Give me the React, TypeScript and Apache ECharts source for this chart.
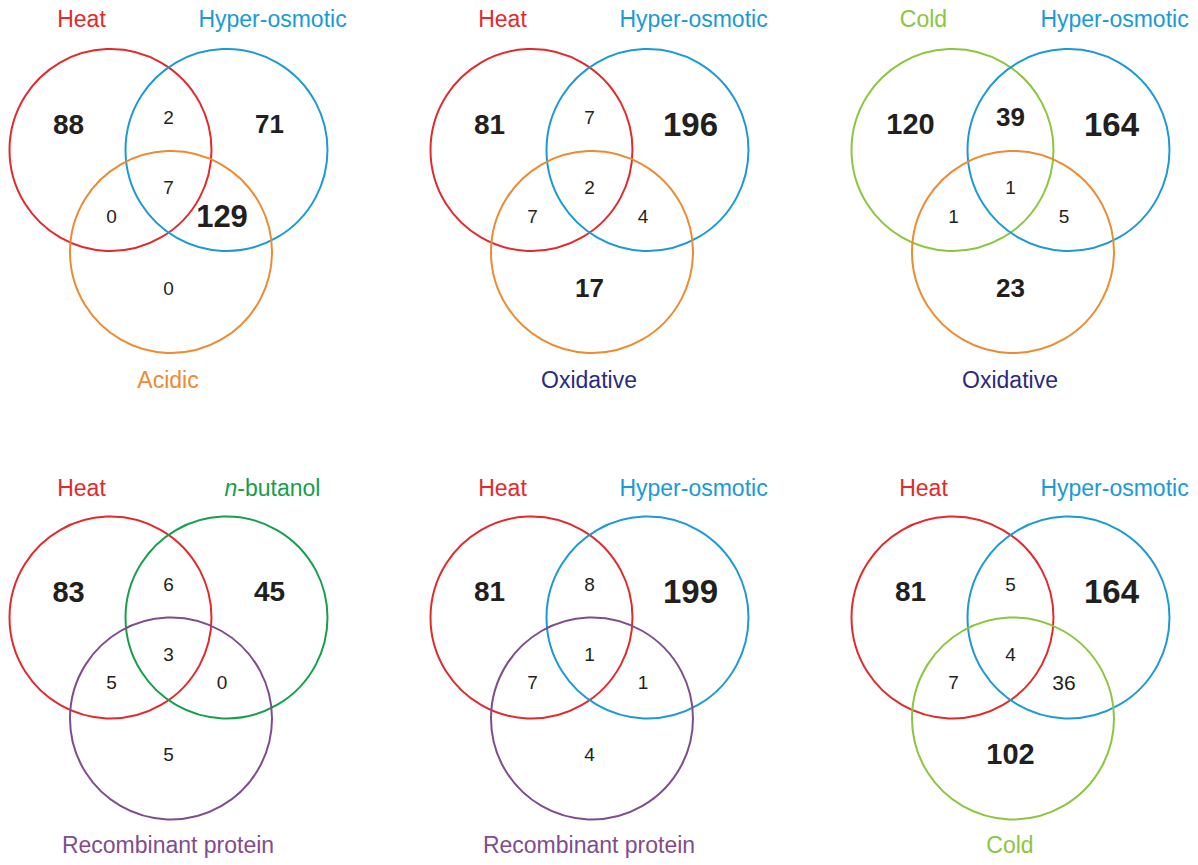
import React, { useEffect, useRef } from "react";
import * as echarts from "echarts";

// ---- data ----
// region order: only A, A∩B, only B, A∩B∩C, A∩C, B∩C, only C
const PANEL_SETS: string[][] = [
  ["Heat", "Hyper-osmotic", "Acidic"],
  ["Heat", "Hyper-osmotic", "Oxidative"],
  ["Cold", "Hyper-osmotic", "Oxidative"],
  ["Heat", "n-butanol", "Recombinant protein"],
  ["Heat", "Hyper-osmotic", "Recombinant protein"],
  ["Heat", "Hyper-osmotic", "Cold"],
];
const COUNTS_P1 = [88, 2, 71, 7, 0, 129, 0];
const COUNTS_P2 = [81, 7, 196, 2, 7, 4, 17];
const COUNTS_P3 = [120, 39, 164, 1, 1, 5, 23];
const COUNTS_P4 = [83, 6, 45, 3, 5, 0, 5];
const COUNTS_P5 = [81, 8, 199, 1, 7, 1, 4];
const COUNTS_P6 = [81, 5, 164, 4, 7, 36, 102];
const PANEL_COUNTS = [COUNTS_P1, COUNTS_P2, COUNTS_P3, COUNTS_P4, COUNTS_P5, COUNTS_P6];

// ---- styles / layout ----
const RED = "#e2292c";
const BLUE = "#1b9ad6";
const ORANGE = "#ee8a2f";
const LGREEN = "#8cc63e";
const DGREEN = "#14a04a";
const PURPLE = "#7f4d8e";
const NAVY = "#2b2a80";
const INK = "#231f20";

const CIRCLE_COLORS = [
  [RED, BLUE, ORANGE],
  [RED, BLUE, ORANGE],
  [LGREEN, BLUE, ORANGE],
  [RED, DGREEN, PURPLE],
  [RED, BLUE, PURPLE],
  [RED, BLUE, LGREEN],
];
const LABEL_COLORS = [
  [RED, BLUE, ORANGE],
  [RED, BLUE, NAVY],
  [LGREEN, BLUE, NAVY],
  [RED, DGREEN, PURPLE],
  [RED, BLUE, PURPLE],
  [RED, BLUE, LGREEN],
];
const NUMBER_SIZES = [
  [28, 19, 26, 19, 19, 31, 19],
  [28, 19, 33, 19, 19, 19, 26],
  [29, 26, 33, 19, 19, 19, 26],
  [29, 19, 28, 19, 19, 19, 19],
  [28, 19, 33, 19, 19, 19, 19],
  [28, 19, 33, 19, 19, 21, 29],
];

const RADIUS = 101;
const CIRCLE_CENTERS = [
  [110.5, 150],
  [226.5, 150],
  [171, 252],
];
const REGION_POS = [
  [68.5, 124],
  [168.5, 117],
  [269.5, 124],
  [168.5, 187],
  [111.5, 216],
  [222, 216],
  [168.5, 288],
];
const SET_LABEL_POS = [
  [81.5, 19],
  [272.5, 19],
  [168, 380],
];
const PANEL_X = [0, 421, 842];
const PANEL_Y = [0, 469];
const PANEL_W = 356;
const PANEL_H = 400;
const FONT = "Arial, 'Liberation Sans', Helvetica, sans-serif";

function buildOption() {
  const grid: any[] = [];
  const xAxis: any[] = [];
  const yAxis: any[] = [];
  const series: any[] = [];

  PANEL_SETS.forEach((sets, p) => {
    const ox = PANEL_X[p % 3];
    const oy = PANEL_Y[Math.floor(p / 3)];
    grid.push({ left: ox, top: oy, width: PANEL_W, height: PANEL_H });
    xAxis.push({ gridIndex: p, type: "value", min: 0, max: PANEL_W, show: false });
    yAxis.push({ gridIndex: p, type: "value", min: 0, max: PANEL_H, inverse: true, show: false });

    const colors = CIRCLE_COLORS[p];
    series.push({
      type: "custom",
      xAxisIndex: p,
      yAxisIndex: p,
      silent: true,
      data: CIRCLE_CENTERS.map((c) => [c[0], c[1], RADIUS]),
      renderItem: (params: any, api: any) => {
        const c = api.coord([api.value(0), api.value(1)]);
        const r = api.size([api.value(2), 0])[0];
        return {
          type: "circle",
          shape: { cx: c[0], cy: c[1], r },
          style: { fill: "none", stroke: colors[params.dataIndex], lineWidth: 2 },
        };
      },
    });

    const counts = PANEL_COUNTS[p];
    series.push({
      type: "scatter",
      xAxisIndex: p,
      yAxisIndex: p,
      silent: true,
      symbolSize: 0,
      itemStyle: { opacity: 1 },
      data: counts.map((v, i) => {
        const size = NUMBER_SIZES[p][i];
        return {
          value: [REGION_POS[i][0], REGION_POS[i][1], v],
          label: {
            fontSize: size,
            fontWeight: size >= 24 ? "bold" : "normal",
          },
        };
      }),
      label: {
        show: true,
        position: "inside",
        color: INK,
        opacity: 1,
        fontFamily: FONT,
        formatter: (d: any) => String(d.value[2]),
      },
    });

    series.push({
      type: "scatter",
      xAxisIndex: p,
      yAxisIndex: p,
      silent: true,
      symbolSize: 0,
      itemStyle: { opacity: 1 },
      data: sets.map((name, i) => ({
        name,
        value: [SET_LABEL_POS[i][0], SET_LABEL_POS[i][1]],
        label: { color: LABEL_COLORS[p][i] },
      })),
      label: {
        show: true,
        position: "inside",
        opacity: 1,
        fontFamily: FONT,
        fontSize: 23,
        formatter: (d: any) =>
          d.name.startsWith("n-") ? "{it|n}-" + d.name.slice(2) : d.name,
        rich: {
          it: { fontStyle: "italic", fontSize: 23, fontFamily: FONT },
        },
      },
    });
  });

  return {
    animation: false,
    backgroundColor: "#ffffff",
    grid,
    xAxis,
    yAxis,
    series,
  };
}

export default function App() {
  const ref = useRef<HTMLDivElement>(null);
  useEffect(() => {
    if (!ref.current) return;
    const chart = echarts.init(ref.current, undefined, { renderer: "svg" });
    chart.setOption(buildOption() as any);
    return () => chart.dispose();
  }, []);
  return (
    <div
      ref={ref}
      style={{ position: "fixed", left: 0, top: 0, width: 1198, height: 865, background: "#fff" }}
    />
  );
}
